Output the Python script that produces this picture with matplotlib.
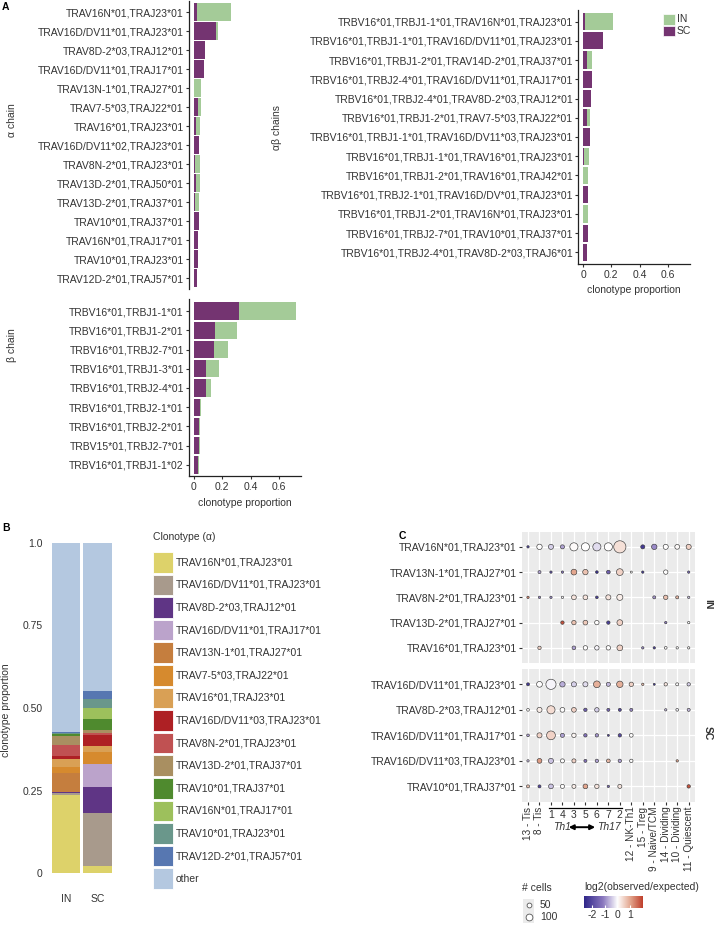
import numpy as np
import matplotlib
matplotlib.use("Agg")
import matplotlib.pyplot as plt
from matplotlib.colors import LinearSegmentedColormap, TwoSlopeNorm
from matplotlib.patches import Rectangle
from matplotlib.transforms import blended_transform_factory

plt.rcParams['font.family'] = ['Liberation Sans', 'DejaVu Sans']
plt.rcParams['font.size'] = 7.5
plt.rcParams['axes.linewidth'] = 0.9

W, H = 714, 925
TXT = '#333333'
IN_COL = '#a4cb98'
SC_COL = '#743471'

# ---------------- panel A data (stacked: SC first, IN on top) ----------------
alpha_labels = ["TRAV16N*01,TRAJ23*01", "TRAV16D/DV11*01,TRAJ23*01", "TRAV8D-2*03,TRAJ12*01",
                "TRAV16D/DV11*01,TRAJ17*01", "TRAV13N-1*01,TRAJ27*01", "TRAV7-5*03,TRAJ22*01",
                "TRAV16*01,TRAJ23*01", "TRAV16D/DV11*02,TRAJ23*01", "TRAV8N-2*01,TRAJ23*01",
                "TRAV13D-2*01,TRAJ50*01", "TRAV13D-2*01,TRAJ37*01", "TRAV10*01,TRAJ37*01",
                "TRAV16N*01,TRAJ17*01", "TRAV10*01,TRAJ23*01", "TRAV12D-2*01,TRAJ57*01"]
alpha_sc = [0.023, 0.160, 0.077, 0.070, 0.0, 0.033, 0.019, 0.035, 0.010, 0.016, 0.010, 0.035, 0.033, 0.028, 0.026]
alpha_in = [0.240, 0.014, 0.0, 0.0, 0.052, 0.016, 0.026, 0.005, 0.032, 0.026, 0.028, 0.0, 0.0, 0.005, 0.0]

beta_labels = ["TRBV16*01,TRBJ1-1*01", "TRBV16*01,TRBJ1-2*01", "TRBV16*01,TRBJ2-7*01",
               "TRBV16*01,TRBJ1-3*01", "TRBV16*01,TRBJ2-4*01", "TRBV16*01,TRBJ2-1*01",
               "TRBV16*01,TRBJ2-2*01", "TRBV15*01,TRBJ2-7*01", "TRBV16*01,TRBJ1-1*02"]
beta_sc = [0.320, 0.148, 0.141, 0.087, 0.087, 0.047, 0.040, 0.040, 0.028]
beta_in = [0.400, 0.157, 0.100, 0.093, 0.035, 0.003, 0.005, 0.002, 0.010]

ab_labels = ["TRBV16*01,TRBJ1-1*01,TRAV16N*01,TRAJ23*01",
             "TRBV16*01,TRBJ1-1*01,TRAV16D/DV11*01,TRAJ23*01",
             "TRBV16*01,TRBJ1-2*01,TRAV14D-2*01,TRAJ37*01",
             "TRBV16*01,TRBJ2-4*01,TRAV16D/DV11*01,TRAJ17*01",
             "TRBV16*01,TRBJ2-4*01,TRAV8D-2*03,TRAJ12*01",
             "TRBV16*01,TRBJ1-2*01,TRAV7-5*03,TRAJ22*01",
             "TRBV16*01,TRBJ1-1*01,TRAV16D/DV11*03,TRAJ23*01",
             "TRBV16*01,TRBJ1-1*01,TRAV16*01,TRAJ23*01",
             "TRBV16*01,TRBJ1-2*01,TRAV16*01,TRAJ42*01",
             "TRBV16*01,TRBJ2-1*01,TRAV16D/DV*01,TRAJ23*01",
             "TRBV16*01,TRBJ1-2*01,TRAV16N*01,TRAJ23*01",
             "TRBV16*01,TRBJ2-7*01,TRAV10*01,TRAJ37*01",
             "TRBV16*01,TRBJ2-4*01,TRAV8D-2*03,TRAJ6*01"]
ab_sc = [0.016, 0.142, 0.026, 0.063, 0.054, 0.026, 0.049, 0.009, 0.0, 0.037, 0.0, 0.033, 0.026]
ab_in = [0.194, 0.0, 0.037, 0.0, 0.0, 0.023, 0.0, 0.033, 0.037, 0.0, 0.033, 0.0, 0.0]

# ---------------- panel B data ----------------
b_groups = ["IN", "SC"]
b_clones = ["TRAV16N*01,TRAJ23*01", "TRAV16D/DV11*01,TRAJ23*01", "TRAV8D-2*03,TRAJ12*01",
            "TRAV16D/DV11*01,TRAJ17*01", "TRAV13N-1*01,TRAJ27*01", "TRAV7-5*03,TRAJ22*01",
            "TRAV16*01,TRAJ23*01", "TRAV16D/DV11*03,TRAJ23*01", "TRAV8N-2*01,TRAJ23*01",
            "TRAV13D-2*01,TRAJ37*01", "TRAV10*01,TRAJ37*01", "TRAV16N*01,TRAJ17*01",
            "TRAV10*01,TRAJ23*01", "TRAV12D-2*01,TRAJ57*01", "other"]
b_colors = ["#ddd26a", "#a89a8c", "#5f3585", "#bba3cb", "#c57e3e", "#d68a2e", "#d9a055",
            "#ae2024", "#c05152", "#a98f61", "#4f8a2e", "#9dc05c", "#6a978b", "#5777b1", "#b4c8e0"]
b_in = [0.236, 0.006, 0.003, 0.0, 0.057, 0.018, 0.027, 0.008, 0.033, 0.027, 0.005, 0.0, 0.003, 0.004, 0.573]
b_sc = [0.023, 0.159, 0.080, 0.070, 0.0, 0.034, 0.018, 0.035, 0.005, 0.008, 0.035, 0.034, 0.025, 0.026, 0.448]

# ---------------- panel C data ----------------
c_cols = ["13 - Tis", "8 - Tis", "1", "4", "3", "5", "6", "7", "2", "12 - NK-Th1", "15 - Treg",
          "9 - Naive/TCM", "14 - Dividing", "10 - Dividing", "11 - Quiescent"]
c_in_rows = ["TRAV16N*01,TRAJ23*01", "TRAV13N-1*01,TRAJ27*01", "TRAV8N-2*01,TRAJ23*01",
             "TRAV13D-2*01,TRAJ27*01", "TRAV16*01,TRAJ23*01"]
c_sc_rows = ["TRAV16D/DV11*01,TRAJ23*01", "TRAV8D-2*03,TRAJ12*01", "TRAV16D/DV11*01,TRAJ17*01",
             "TRAV16D/DV11*03,TRAJ23*01", "TRAV10*01,TRAJ37*01"]
nan = np.nan
c_in_cells = [[12, 63, 56, 36, 143, 143, 143, 143, 321, nan, 36, 63, 56, 49, 56],
              [nan, 20, 12, 12, 72, 63, 16, 30, 99, 9, 12, nan, 42, nan, 12],
              [12, 12, 12, 12, 49, 49, 16, 56, 80, nan, nan, 20, 42, 20, 12],
              [nan, nan, nan, 25, 42, 49, 42, 25, 72, nan, nan, nan, 12, nan, 12],
              [nan, 25, nan, nan, 30, 42, 42, 42, 72, nan, 12, 12, 16, 12, 12]]
c_in_log2 = [[-2.2, 0.0, -0.4, -0.8, 0.05, 0.0, -0.3, 0.0, 0.35, nan, -2.3, -1.0, 0.0, 0.05, 0.5],
             [nan, -0.8, -2.0, -1.2, 1.0, 0.7, -2.5, -1.6, 0.5, 0.0, -2.3, nan, 0.0, nan, -1.5],
             [1.3, -1.0, -1.0, -0.1, 0.3, 0.3, -2.2, 0.3, 0.2, nan, nan, -0.9, 0.7, 0.8, -0.5],
             [nan, nan, nan, 1.8, 0.7, 0.6, 0.0, -2.2, 0.5, nan, nan, nan, -1.2, nan, 0.0],
             [nan, 0.5, nan, nan, -0.8, 0.0, -0.1, 0.0, 0.5, nan, -1.0, -2.2, 0.0, 0.0, 0.05]]
c_sc_cells = [[20, 72, 223, 63, 56, 56, 99, 36, 89, 42, 12, 9, 25, 20, 25],
              [16, 56, 143, 49, 49, 25, 42, 20, 20, 20, nan, nan, 12, 16, 20],
              [16, 56, 167, 36, 42, 25, 25, 9, 25, 30, nan, nan, nan, nan, nan],
              [12, 49, 56, 36, 36, 20, 25, 30, 25, 25, nan, nan, nan, 12, nan],
              [20, 20, 49, 36, 36, 49, 42, 12, 36, nan, nan, nan, nan, nan, 25]]
c_sc_log2 = [[-2.3, 0.0, -0.1, -0.7, -0.4, -0.3, 0.9, -0.6, 0.9, 0.5, 0.8, -2.3, 0.3, 0.0, -0.4],
             [0.0, 0.2, 0.4, 0.0, 0.5, -1.6, -0.4, -1.5, -2.0, -1.0, nan, nan, -0.6, -0.1, -0.6],
             [-0.8, 0.5, 0.5, -0.8, 0.1, -1.3, -0.9, -2.2, -2.0, 0.0, nan, nan, nan, nan, nan],
             [-0.6, 1.1, -0.5, 0.0, 0.5, -1.3, -0.8, 0.8, -0.8, 0.0, nan, nan, nan, 1.0, nan],
             [0.7, -2.0, -0.5, 0.0, 0.2, 1.0, 0.3, -1.5, 0.3, nan, nan, nan, nan, nan, 1.8]]
size_breaks = [50, 100]
cbar_ticks = [-2, -1, 0, 1]

cmap = LinearSegmentedColormap.from_list(
    "l2", [(0.0, "#30278a"), (0.28, "#8a78bf"), (0.5, "#ffffff"), (0.75, "#e3a78f"), (1.0, "#bf3f2b")])
norm = TwoSlopeNorm(vmin=-2.65, vcenter=0.0, vmax=2.0)


def dot_size(cells):
    return 0.24 * np.asarray(cells, dtype=float)


fig = plt.figure(figsize=(W / 100, H / 100), dpi=100)


def px_axes(l, t, r, b):
    return fig.add_axes([l / W, 1 - b / H, (r - l) / W, (b - t) / H])


def stacked_barh(ax, labels, sc, inn, show_x):
    y = np.arange(len(labels))
    ax.barh(y, sc, height=0.9, color=SC_COL)
    ax.barh(y, inn, left=sc, height=0.9, color=IN_COL)
    ax.set_yticks(y, labels)
    ax.set_ylim(len(labels) - 0.4, -0.6)
    ax.set_xlim(-0.036, 0.756)
    ax.spines[['top', 'right']].set_visible(False)
    ax.spines['left'].set_color('#222222')
    ax.tick_params(axis='y', length=2, pad=1.5, color=TXT, labelcolor=TXT, labelsize=7.5)
    if show_x:
        ax.spines['bottom'].set_color('#222222')
        ax.set_xticks([0, 0.2, 0.4, 0.6], ["0", "0.2", "0.4", "0.6"])
        ax.tick_params(axis='x', length=2, pad=2, color=TXT, labelcolor=TXT, labelsize=7.5)
        ax.set_xlabel("clonotype proportion", color=TXT, fontsize=7.5, labelpad=4)
    else:
        ax.spines['bottom'].set_visible(False)
        ax.set_xticks([])


ax_a = px_axes(188.7, 0.6, 301, 289.4)
stacked_barh(ax_a, alpha_labels, alpha_sc, alpha_in, False)
ax_b = px_axes(188.7, 299.5, 301, 476.5)
stacked_barh(ax_b, beta_labels, beta_sc, beta_in, True)
ax_ab = px_axes(578, 10, 690, 264)
stacked_barh(ax_ab, ab_labels, ab_sc, ab_in, True)

# ---------------- panel B ----------------
ax_B = px_axes(46.8, 526.2, 116.5, 889.8)
bottom = np.zeros(2)
for k, clone in enumerate(b_clones):
    vals = np.array([b_in[k], b_sc[k]])
    ax_B.bar([0, 1], vals, bottom=bottom, width=0.9, color=b_colors[k])
    bottom += vals
ax_B.set_xlim(-0.6, 1.6)
ax_B.set_ylim(-0.05, 1.05)
ax_B.set_yticks([0, 0.25, 0.5, 0.75, 1.0], ["0", "0.25", "0.50", "0.75", "1.0"])
ax_B.set_xticks([0, 1], b_groups)
ax_B.tick_params(length=0, pad=3, labelcolor=TXT, labelsize=7.5)
for s in ax_B.spines.values():
    s.set_visible(False)

# ---------------- panel C ----------------
def dot_panel(ax, rows, cells, log2, bottom_axis):
    cells = np.array(cells, dtype=float)
    log2 = np.array(log2, dtype=float)
    r, c = np.where(~np.isnan(cells))
    ax.set_facecolor('#ebebeb')
    ax.set_axisbelow(True)
    ax.grid(color='white', lw=0.9)
    ax.scatter(c, r, s=dot_size(cells[r, c]), c=cmap(norm(log2[r, c])),
               edgecolors='#3a3a3a', linewidths=0.45, zorder=3)
    ax.set_xlim(-0.55, len(c_cols) - 0.45)
    ax.set_ylim(len(rows) - 0.4, -0.6)
    ax.set_yticks(range(len(rows)), rows)
    ax.tick_params(axis='y', length=2, pad=1.5, color=TXT, labelcolor=TXT, labelsize=7.5)
    for s in ax.spines.values():
        s.set_visible(False)
    ax.set_xticks(range(len(c_cols)))
    if bottom_axis:
        labs = [c if ' - ' in c else '' for c in c_cols]
        ax.set_xticklabels(labs, rotation=90, va='top', ha='center')
        ax.tick_params(axis='x', length=2, pad=1.5, color=TXT, labelcolor=TXT, labelsize=7.2)
    else:
        ax.tick_params(axis='x', length=0, labelbottom=False)


ax_cin = px_axes(521.7, 531.7, 695, 663)
dot_panel(ax_cin, c_in_rows, c_in_cells, c_in_log2, False)
ax_csc = px_axes(521.7, 669, 695, 801.7)
dot_panel(ax_csc, c_sc_rows, c_sc_cells, c_sc_log2, True)

# Th1 <-> Th17 bracket under the numbered clusters
hpx = 801.7 - 669
tr = blended_transform_factory(ax_csc.transData, ax_csc.transAxes)
mid = [i for i, c in enumerate(c_cols) if ' - ' not in c]
ax_csc.plot([mid[0] - 0.2, mid[-1] + 0.2], [-6.3 / hpx] * 2, color='black', lw=0.9,
            transform=tr, clip_on=False)
for i in mid:
    ax_csc.text(i, -13.5 / hpx, c_cols[i], transform=tr, ha='center', va='center',
                fontsize=7.5, color=TXT)
ax_csc.text(2.95, -25.5 / hpx, "Th1", transform=tr, ha='center', va='center',
            fontsize=7.5, style='italic', color=TXT)
ax_csc.text(7.05, -25.5 / hpx, "Th17", transform=tr, ha='center', va='center',
            fontsize=7.5, style='italic', color=TXT)
ax_csc.annotate('', xy=(5.85, -25.5 / hpx), xytext=(3.55, -25.5 / hpx),
                xycoords=tr, textcoords=tr,
                arrowprops=dict(arrowstyle='<|-|>', color='black', lw=1.4, mutation_scale=7,
                                shrinkA=0, shrinkB=0))

# colour bar
ax_cb = px_axes(584, 896, 642.7, 907.7)
grad = np.linspace(norm.vmin, norm.vmax, 256)
ax_cb.imshow(cmap(norm(grad))[None, :, :], extent=[norm.vmin, norm.vmax, 0, 1], aspect='auto')
ax_cb.set_xlim(norm.vmin, norm.vmax)
ax_cb.set_yticks([])
ax_cb.set_xticks(cbar_ticks, [str(t) for t in cbar_ticks])
ax_cb.tick_params(axis='x', direction='in', length=2, color='white', pad=2,
                  labelcolor=TXT, labelsize=7.5)
for s in ax_cb.spines.values():
    s.set_visible(False)

# ---------------- overlay: titles, legends, panel letters ----------------
ov = fig.add_axes([0, 0, 1, 1])
ov.set_xlim(0, W)
ov.set_ylim(H, 0)
ov.axis('off')
ov.patch.set_alpha(0)

for x, y, s in [(2, 7, "A"), (2, 528, "B"), (399, 536, "C")]:
    ov.text(x, y, s, fontsize=7.5, fontweight='bold', ha='left', va='center')

ov.text(12, 120, "α chain", rotation=90, ha='center', va='center', color=TXT)
ov.text(12, 345, "β chain", rotation=90, ha='center', va='center', color=TXT)
ov.text(277, 128, "αβ chains", rotation=90, ha='center', va='center', color=TXT)
ov.text(6, 710, "clonotype proportion", rotation=90, ha='center', va='center', color=TXT)

# panel A legend
for k, (lab, col) in enumerate([("IN", IN_COL), ("SC", SC_COL)]):
    y0 = 14 + k * 11.5
    ov.add_patch(Rectangle((663, y0), 12, 10.5, facecolor=col, edgecolor='white', lw=0.5))
    ov.text(677, y0 + 5.3, lab, ha='left', va='center', color=TXT)

# panel B legend
ov.text(153, 537, "Clonotype (α)", ha='left', va='center', color=TXT)
for k, (lab, col) in enumerate(zip(b_clones, b_colors)):
    yc = 562.3 + k * 22.6
    ov.add_patch(Rectangle((152.7, yc - 10.3), 20.6, 20.6, facecolor=col, edgecolor='white', lw=0.6))
    ov.text(176, yc, lab, ha='left', va='center', color=TXT)

# panel C strips
ov.text(708, 604, "IN", rotation=270, ha='center', va='center', fontweight='bold', color=TXT)
ov.text(708, 733, "SC", rotation=270, ha='center', va='center', fontweight='bold', color=TXT)

# size legend
ov.text(522, 888, "# cells", ha='left', va='center', color=TXT)
ov.text(584, 887.5, "log2(observed/expected)", ha='left', va='center', color=TXT)
for k, n in enumerate(size_breaks):
    yc = 904.5 + k * 12.5
    ov.add_patch(Rectangle((523.3, yc - 6), 11, 12, facecolor='#ebebeb', edgecolor='none'))
    ov.scatter([528.8], [yc], s=dot_size(n), facecolor='white', edgecolor='#555555', linewidths=0.6)
    ov.text(540, yc, str(n), ha='left', va='center', color=TXT)

fig.savefig("out.png", dpi=100)
